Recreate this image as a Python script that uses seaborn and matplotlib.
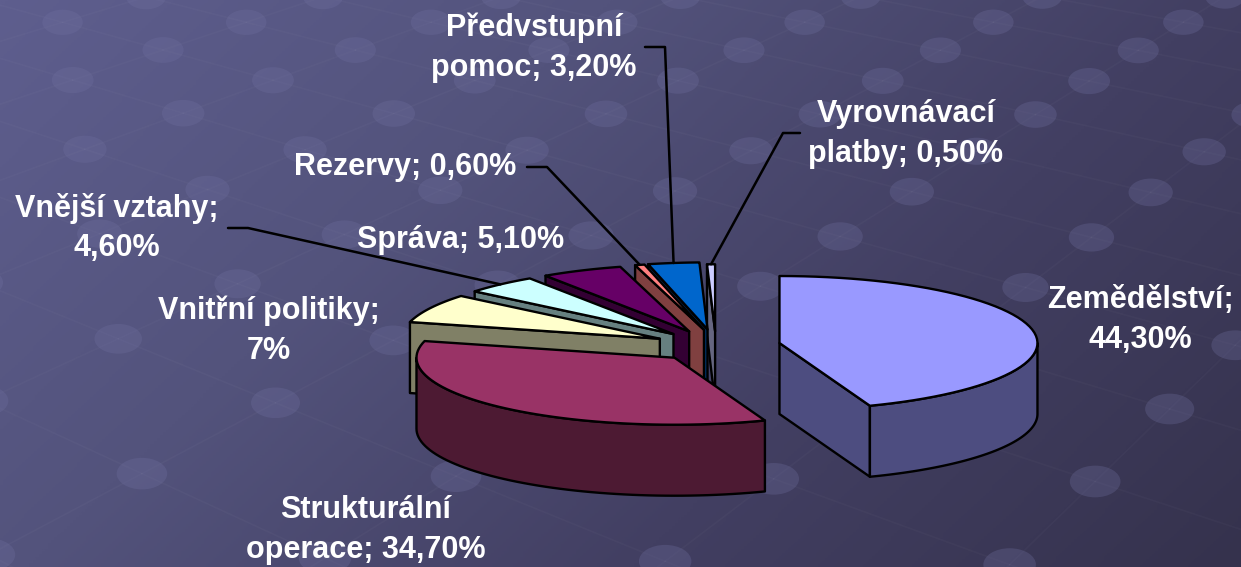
import numpy as np
import matplotlib
matplotlib.use("Agg")
import matplotlib.pyplot as plt
from matplotlib.patches import Ellipse, Polygon
import seaborn as sns

# --- DATA ---
CATEGORIES = ["Zemědělství", "Strukturální operace", "Vnitřní politiky", "Vnější vztahy",
              "Správa", "Rezervy", "Předvstupní pomoc", "Vyrovnávací platby"]
VALUES = [44.3, 34.7, 7.0, 4.6, 5.1, 0.6, 3.2, 0.5]
LABELS = ["Zemědělství;\n44,30%", "Strukturální\noperace; 34,70%", "Vnitřní politiky;\n7%",
          "Vnější vztahy;\n4,60%", "Správa; 5,10%", "Rezervy; 0,60%",
          "Předvstupní\npomoc; 3,20%", "Vyrovnávací\nplatby; 0,50%"]

# --- STYLE ---
TOP_COLOURS = ["#9999FF", "#993366", "#FFFFCC", "#CCFFFF", "#660066", "#FF8080", "#0066CC", "#CCCCFF"]
SIDE_COLOURS = ["#4D4D80", "#4D1A33", "#808066", "#668080", "#330033", "#804040", "#003366", "#666680"]
EXPLODE = [0.25, 0.235, 0.24, 0.24, 0.24, 0.25, 0.25, 0.22]
NUDGE_X = [1, 0, 0, 0, 0, 5, 1, 1]
LABEL_POS = [(1140, 320), (366, 530), (269, 331), (117, 228), (461, 240), (405, 167), (534, 48), (906, 134)]
# leader lines: slice index -> label side points
LEADERS = {3: [(228, 228), (248, 228)], 5: [(527, 167), (547, 167)],
           6: [(645, 47), (665, 47)], 7: [(800, 133), (783, 133)]}
CENTRE = (715, 346)
RX, RY, DEPTH = 258, 67, 71
W, H = 1241, 567

# background dots seen in the picture, as (column, row) in the tiled pattern -> pixel
GRID_IJ = [(1, -1), (2, -1), (1, 0), (2, 0), (3, 0), (1, 1), (2, 1), (3, 1), (2, 2), (4, 3), (4, 4),
           (5, 3), (5, 4), (5, 5), (5, 6), (6, 5), (5, -1), (5, -2), (5, -3), (5, -4), (5, -5),
           (6, 1), (6, 0), (6, -1), (6, -2), (6, -3), (6, -4), (6, -5), (6, -6),
           (7, 0), (7, -1), (7, -2), (7, -3), (8, 1), (8, 2), (8, 3)]
GRID_XY = [(252, 18), (363, 47), (163, 48), (277, 80), (393, 113), (67, 81), (183, 117), (302, 152),
           (82, 153), (220, 290), (108, 339), (387, 349), (279, 408), (149, 473), (0, 547), (330, 540),
           (757, 149), (825, 115), (882, 82), (943, 51), (998, 19), (753, 286), (833, 236), (910, 190),
           (973, 150), (1028, 116), (1083, 82), (1135, 50), (1183, 19), (1025, 290), (1095, 238),
           (1154, 193), (1203, 157), (1177, 412), (1105, 478), (1010, 565)]

sns.set_theme(style="white")
plt.rcParams["font.family"] = ["Liberation Sans", "DejaVu Sans"]

fig = plt.figure(figsize=(W / 100, H / 100), dpi=100)
ax = fig.add_axes([0, 0, 1, 1])
ax.set_xlim(0, W)
ax.set_ylim(H, 0)
ax.axis("off")

# 1. Background: diagonal gradient
cmap = sns.blend_palette(["#5E5E8E", "#53537C", "#423F62", "#35324D"], as_cmap=True)
yy, xx = np.mgrid[0:1:200j, 0:1:400j]
ax.imshow((xx * 0.68 + yy * 0.32), cmap=cmap, extent=(0, W, H, 0), aspect="auto", zorder=0)

# 2. Background: grid of dots in perspective (homography fitted to the dots read above)
rows = []
for (i, j), (x, y) in zip(GRID_IJ, GRID_XY):
    rows.append([i, j, 1, 0, 0, 0, -x * i, -x * j, -x])
    rows.append([0, 0, 0, i, j, 1, -y * i, -y * j, -y])
hom = np.linalg.svd(np.array(rows, float))[2][-1].reshape(3, 3)
hom = hom / hom[2, 2]


def lattice(i, j):
    p = hom @ np.array([i, j, 1.0])
    if p[2] <= 0.02:
        return None
    return p[0] / p[2], p[1] / p[2]


for i in range(-12, 14):
    for j in range(-14, 16):
        p0, p1, p2 = lattice(i, j), lattice(i + 1, j), lattice(i, j + 1)
        if p0 is None or not (-300 < p0[0] < W + 300 and -300 < p0[1] < H + 300):
            continue
        for p in (p1, p2):
            if p is not None:
                ax.plot([p0[0], p[0]], [p0[1], p[1]], color="white", alpha=0.025, lw=1.2, zorder=1)
        scale = 1 + p0[1] / 1800
        ax.add_patch(Ellipse(p0, 40 * scale, 25 * scale, color="#7070A0", alpha=0.3, lw=0, zorder=2))

# 3. Exploded 3D pie: angles run clockwise from the top of the ellipse
edges = np.concatenate([[0], np.cumsum(VALUES)]) / np.sum(VALUES) * 2 * np.pi
mids = (edges[:-1] + edges[1:]) / 2
centres = []
for k in range(len(VALUES)):
    centres.append((CENTRE[0] + NUDGE_X[k] + EXPLODE[k] * RX * np.sin(mids[k]),
                    CENTRE[1] - EXPLODE[k] * RY * np.cos(mids[k])))


def rim(k, a):
    return centres[k][0] + RX * np.sin(a), centres[k][1] - RY * np.cos(a)


def draw_face(points, colour, z):
    ax.add_patch(Polygon(points, closed=True, facecolor=colour, edgecolor="black",
                         lw=1.7, joinstyle="round", zorder=z))


# back slices first
order = np.argsort(-np.cos(mids))
for z, k in enumerate(order):
    base = 10 + z * 3
    a0, a1 = edges[k], edges[k + 1]
    c = centres[k]
    # radial walls, only when they face the viewer
    for a, visible in [(a0, np.sin(a0) < -1e-6), (a1, np.sin(a1) > 1e-6)]:
        if visible:
            r = rim(k, a)
            draw_face([c, r, (r[0], r[1] + DEPTH), (c[0], c[1] + DEPTH)], SIDE_COLOURS[k], base)
    # outer wall, front half of the ellipse only
    lo, hi = max(a0, np.pi / 2), min(a1, 3 * np.pi / 2)
    if hi > lo:
        arc = np.array([rim(k, a) for a in np.linspace(lo, hi, 60)])
        low = arc + [0, DEPTH]
        draw_face(np.vstack([arc, low[::-1]]), SIDE_COLOURS[k], base + 1)
    # top
    arc = [rim(k, a) for a in np.linspace(a0, a1, 60)]
    draw_face([c] + arc, TOP_COLOURS[k], base + 2)

# 4. Leader lines and labels
for k, pts in LEADERS.items():
    end = rim(k, mids[k])
    line = np.array(pts + [end])
    ax.plot(line[:, 0], line[:, 1], color="black", lw=1.8, zorder=60)

for label, pos in zip(LABELS, LABEL_POS):
    ax.text(pos[0], pos[1], label, color="white", fontsize=22, fontweight="bold", ha="center",
            va="center", linespacing=1.42, zorder=70)

fig.savefig("out.png", dpi=100)
plt.close(fig)
